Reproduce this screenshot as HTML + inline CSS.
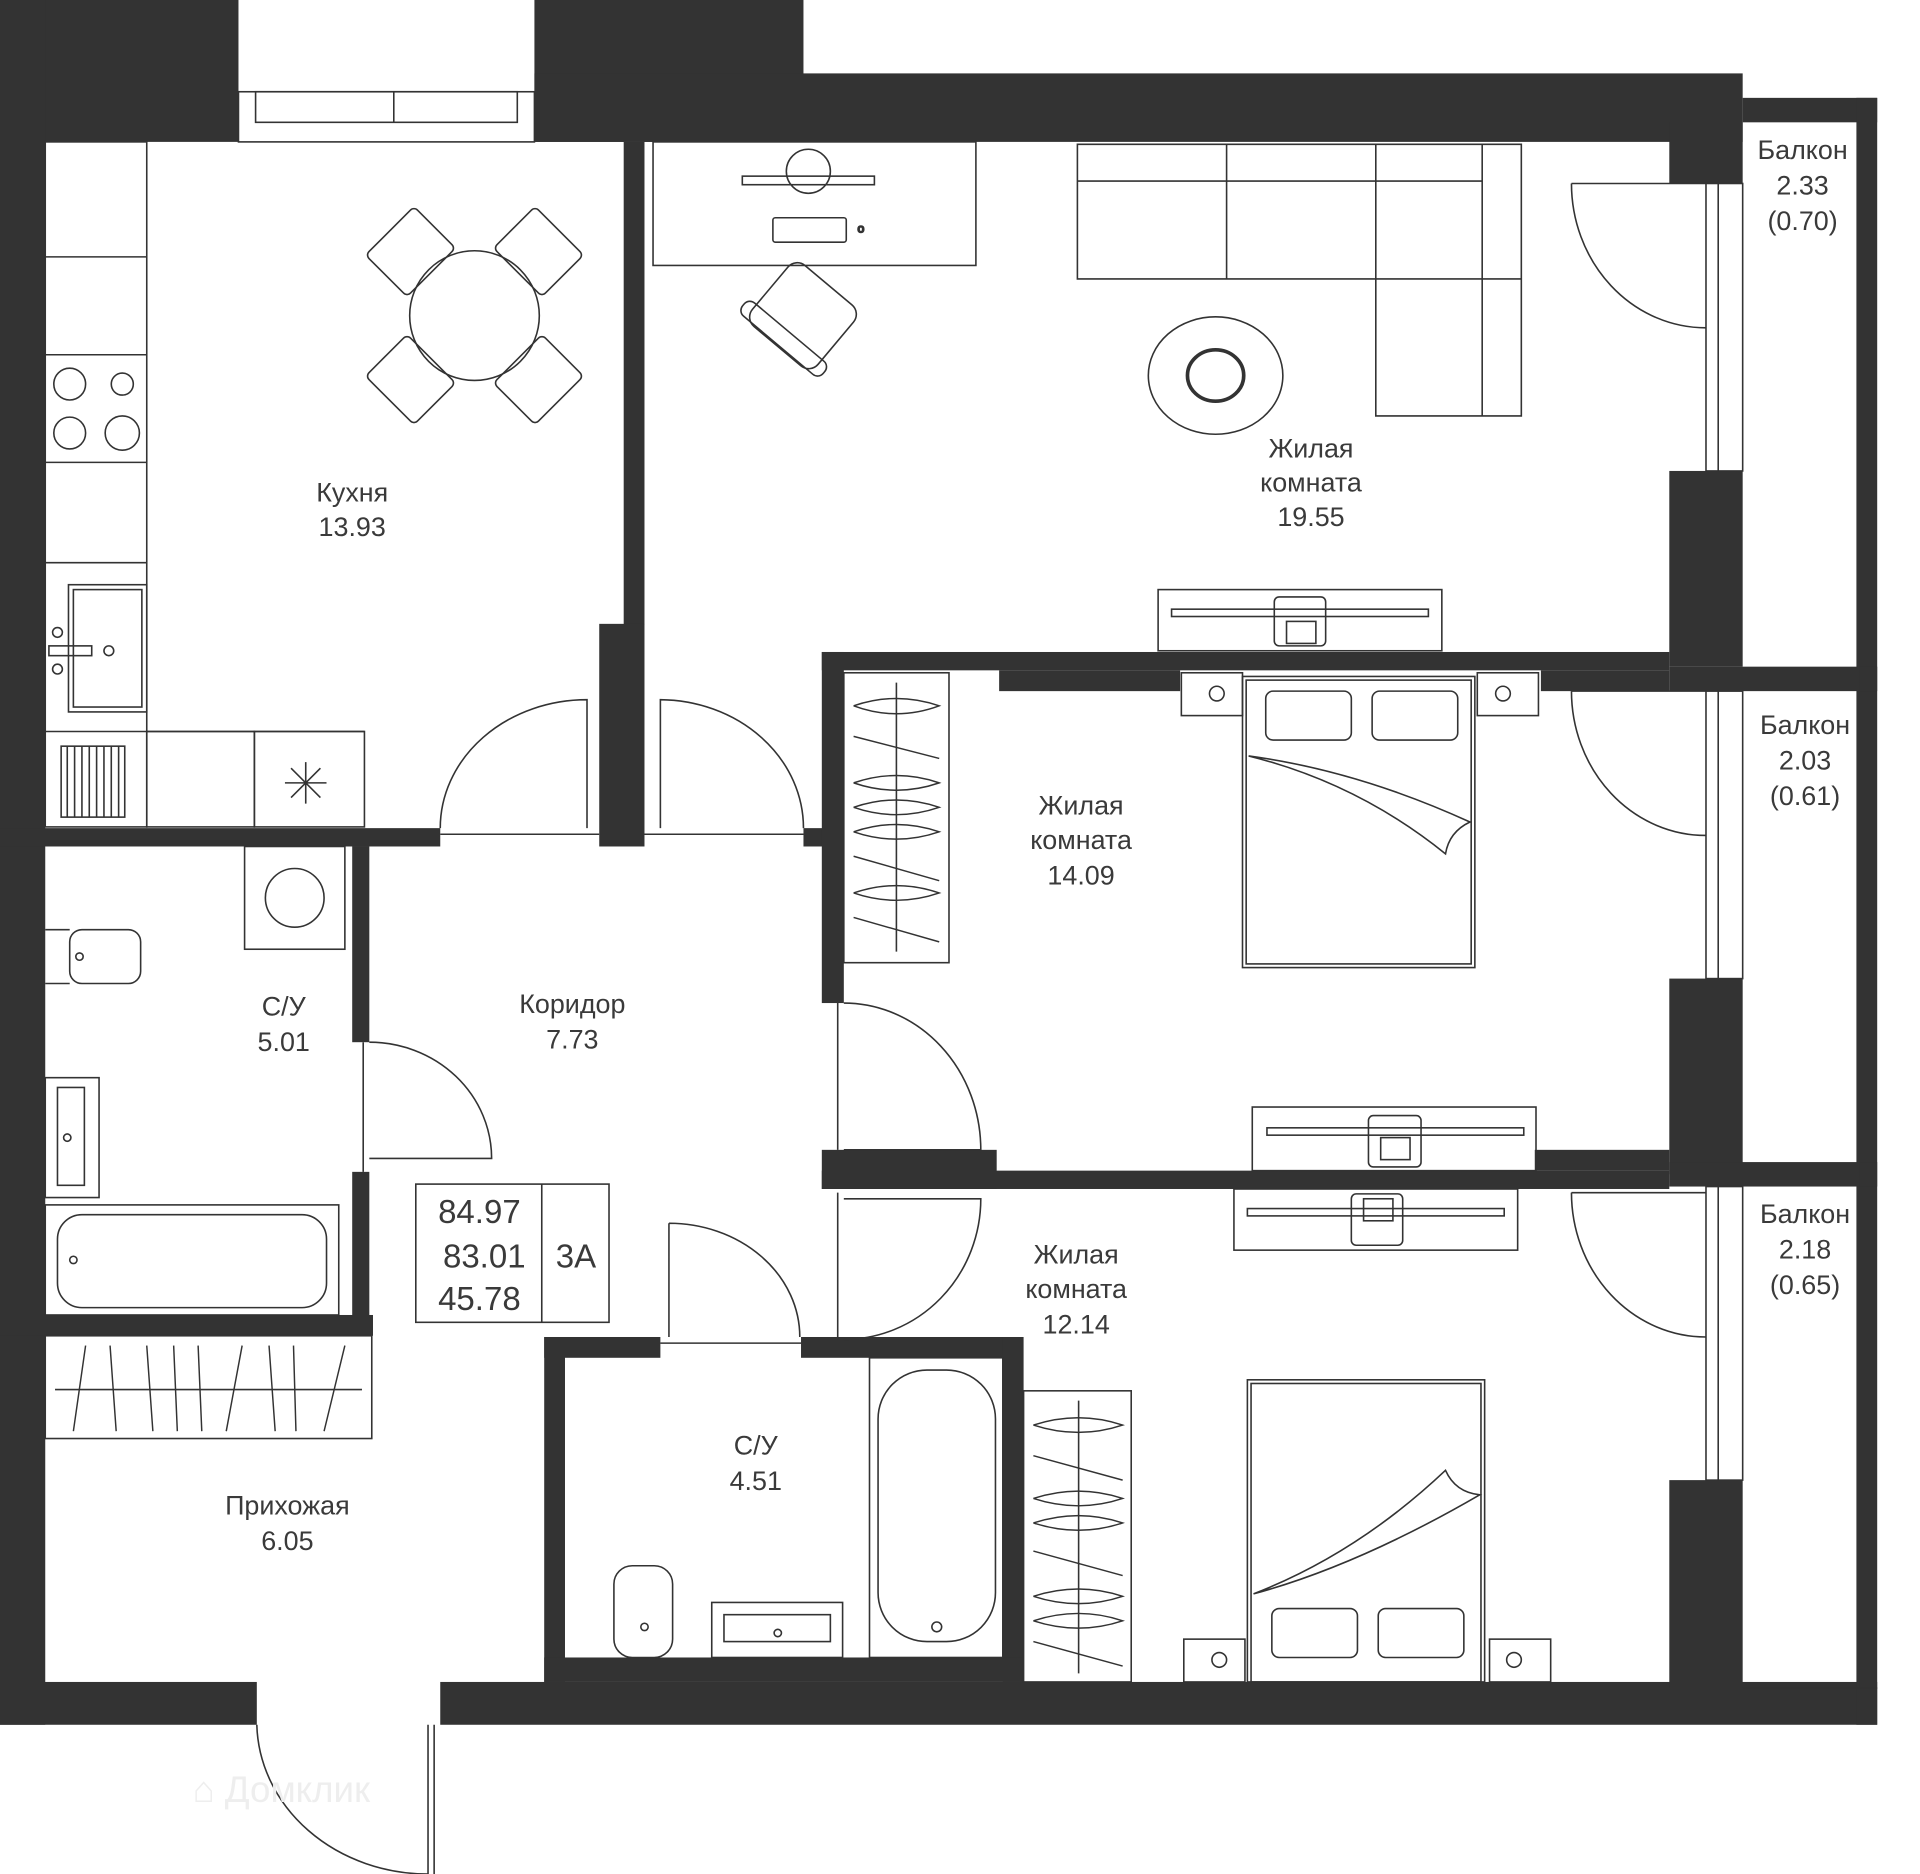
<!DOCTYPE html>
<html><head><meta charset="utf-8"><style>
html,body{margin:0;padding:0;background:#fff;}
svg{display:block}
text{font-family:"Liberation Sans","DejaVu Sans",sans-serif;font-size:22px;fill:#3a3a3a;text-anchor:middle}
</style></head><body>
<svg width="1920" height="1874" viewBox="0 0 1570 1532" preserveAspectRatio="none" xmlns="http://www.w3.org/2000/svg">
<rect width="1570" height="1532" fill="#fff"/>
<g fill="#333">
<!-- top -->
<rect x="0" y="0" width="195" height="116"/>
<rect x="437" y="0" width="220" height="116"/>
<rect x="437" y="60" width="988" height="56"/>
<rect x="1425" y="80" width="110" height="20"/>
<!-- left -->
<rect x="0" y="0" width="37" height="1410"/>
<!-- bottom -->
<rect x="0" y="1375" width="210" height="35"/>
<rect x="360" y="1375" width="1175" height="35"/>
<!-- right walls -->
<rect x="1365" y="100" width="60" height="50"/>
<rect x="1365" y="385" width="60" height="160"/>
<rect x="1365" y="800" width="60" height="160"/>
<rect x="1365" y="1210" width="60" height="170"/>
<rect x="1518" y="80" width="17" height="1330"/>
<rect x="1365" y="545" width="170" height="20"/>
<rect x="1365" y="950" width="170" height="20"/>
<!-- kitchen/living -->
<rect x="510" y="116" width="17" height="395"/>
<rect x="490" y="510" width="37" height="182"/>
<rect x="0" y="677" width="360" height="15"/>
<rect x="657" y="677" width="33" height="15"/>
<!-- bedroom 1 -->
<rect x="672" y="533" width="693" height="15"/>
<rect x="817" y="548" width="148" height="17"/>
<rect x="1260" y="548" width="105" height="17"/>
<rect x="672" y="533" width="18" height="287"/>
<rect x="672" y="940" width="143" height="32"/>
<rect x="672" y="957" width="693" height="15"/>
<rect x="1255" y="940" width="110" height="17"/>
<!-- bath1 -->
<rect x="288" y="692" width="14" height="160"/>
<rect x="288" y="958" width="14" height="134"/>
<rect x="0" y="1075" width="305" height="17"/>
<!-- bath2 -->
<rect x="445" y="1093" width="17" height="282"/>
<rect x="445" y="1093" width="95" height="17"/>
<rect x="655" y="1093" width="180" height="17"/>
<rect x="820" y="1093" width="17" height="282"/>
<rect x="445" y="1355" width="392" height="20"/>
</g>
<g fill="none" stroke="#333" stroke-width="1.3">
<!-- window -->
<rect x="195" y="75" width="242" height="41"/>
<rect x="209" y="75" width="214" height="25"/>
<line x1="322" y1="75" x2="322" y2="100"/>
<!-- balcony windows -->
<rect x="1395" y="150" width="30" height="235"/><line x1="1405" y1="150" x2="1405" y2="385"/>
<rect x="1395" y="565" width="30" height="235"/><line x1="1405" y1="565" x2="1405" y2="800"/>
<rect x="1395" y="970" width="30" height="240"/><line x1="1405" y1="970" x2="1405" y2="1210"/>
<line x1="1520" y1="100" x2="1520" y2="1380"/>
<line x1="1425" y1="1380" x2="1535" y2="1380"/>
<!-- balcony doors -->
<path d="M1285 150 L1395 150 M1285 150 A110 118 0 0 0 1395 268"/>
<path d="M1285 565 L1395 565 M1285 565 A110 118 0 0 0 1395 683"/>
<path d="M1285 975 L1395 975 M1285 975 A110 118 0 0 0 1395 1093"/>
<!-- kitchen -->
<rect x="37" y="116" width="83" height="560"/>
<line x1="37" y1="210" x2="120" y2="210"/><line x1="37" y1="290" x2="120" y2="290"/>
<line x1="37" y1="378" x2="120" y2="378"/><line x1="37" y1="460" x2="120" y2="460"/>
<line x1="37" y1="598" x2="298" y2="598"/>
<rect x="120" y="598" width="88" height="78"/><rect x="208" y="598" width="90" height="78"/>
<circle cx="57" cy="314" r="13"/><circle cx="100" cy="314" r="9"/>
<circle cx="57" cy="354" r="13"/><circle cx="100" cy="354" r="14"/>
<rect x="56" y="478" width="64" height="104"/><rect x="60" y="482" width="56" height="96"/>
<circle cx="47" cy="517" r="4"/><circle cx="47" cy="547" r="4"/><circle cx="89" cy="532" r="4"/>
<rect x="40" y="528" width="35" height="8"/>
<rect x="50" y="610" width="52" height="58"/>
<path d="M55 610 V668 M61 610 V668 M67 610 V668 M73 610 V668 M79 610 V668 M85 610 V668 M91 610 V668 M97 610 V668"/>
<path d="M233 640 H267 M250 623 V657 M238 628 L262 652 M262 628 L238 652"/>
<circle cx="388" cy="258" r="53"/>
<g transform="rotate(45 388 258)">
<rect x="360" y="160" width="56" height="48" rx="4"/><rect x="360" y="308" width="56" height="48" rx="4"/>
<rect x="290" y="230" width="48" height="56" rx="4"/><rect x="438" y="230" width="48" height="56" rx="4"/>
</g>
<!-- doors kitchen/living -->
<path d="M360 677 A120 105 0 0 1 480 572 V677"/>
<path d="M540 677 V572 A118 105 0 0 1 657 677"/>
<line x1="360" y1="682" x2="490" y2="682"/><line x1="527" y1="682" x2="657" y2="682"/>
<!-- desk -->
<rect x="534" y="116" width="264" height="101"/>
<rect x="607" y="144" width="108" height="7"/><circle cx="661" cy="140" r="18"/>
<rect x="632" y="178" width="60" height="20" rx="2"/><text x="704" y="190" style="font-size:10px">o</text>
<g transform="rotate(40 655 260)"><rect x="620" y="225" width="70" height="65" rx="10"/><rect x="612" y="275" width="86" height="14" rx="6"/></g>
<!-- sofa -->
<path d="M881 118 H1244 V340 H1125 V228 H881 Z"/>
<line x1="1003" y1="118" x2="1003" y2="228"/><line x1="1125" y1="118" x2="1125" y2="228"/>
<line x1="881" y1="148" x2="1212" y2="148"/><line x1="1212" y1="118" x2="1212" y2="340"/>
<line x1="1125" y1="228" x2="1244" y2="228"/>
<ellipse cx="994" cy="307" rx="55" ry="48"/><ellipse cx="994" cy="307" rx="23" ry="21" stroke-width="3"/>
<!-- TV living -->
<rect x="947" y="482" width="232" height="50"/><rect x="958" y="498" width="210" height="6"/>
<rect x="1042" y="488" width="42" height="40" rx="4"/><rect x="1052" y="508" width="24" height="18"/>
<!-- bedroom1 -->
<rect x="690" y="550" width="86" height="237"/><line x1="733" y1="558" x2="733" y2="778"/>
<g stroke-width="1.2">
<path d="M698 577 Q733 565 768 577 Q733 590 698 577"/><path d="M698 602 L768 620"/><path d="M698 640 Q733 628 768 640 Q733 652 698 640"/>
<path d="M698 660 Q733 648 768 660 Q733 672 698 660"/><path d="M698 680 Q733 668 768 680 Q733 692 698 680"/><path d="M698 700 L768 720"/>
<path d="M698 730 Q733 718 768 730 Q733 742 698 730"/><path d="M698 750 L768 770"/>
</g>
<rect x="966" y="550" width="50" height="35"/><rect x="1208" y="550" width="50" height="35"/>
<circle cx="995" cy="567" r="6"/><circle cx="1229" cy="567" r="6"/>
<rect x="1016" y="553" width="190" height="238"/><rect x="1019" y="556" width="184" height="232"/>
<rect x="1035" y="565" width="70" height="40" rx="6"/><rect x="1122" y="565" width="70" height="40" rx="6"/>
<path d="M1021 618 Q1110 630 1202 672 Q1185 680 1182 698 Q1110 640 1021 618"/>
<rect x="1024" y="905" width="232" height="52"/><rect x="1036" y="922" width="210" height="6"/>
<rect x="1119" y="912" width="43" height="42" rx="4"/><rect x="1129" y="930" width="24" height="18"/>
<path d="M690 820 A112 120 0 0 1 802 940 H690"/><line x1="685" y1="820" x2="685" y2="940"/>
<!-- bedroom2 -->
<rect x="1009" y="972" width="232" height="50"/><rect x="1020" y="988" width="210" height="6"/>
<rect x="1105" y="976" width="42" height="42" rx="4"/><rect x="1115" y="980" width="24" height="18"/>
<path d="M690 980 H802 A112 115 0 0 1 690 1095"/><line x1="685" y1="975" x2="685" y2="1095"/>
<rect x="837" y="1137" width="88" height="238"/><line x1="882" y1="1145" x2="882" y2="1368"/>
<g stroke-width="1.2">
<path d="M845 1165 Q882 1153 918 1165 Q882 1177 845 1165"/><path d="M845 1190 L918 1210"/><path d="M845 1225 Q882 1213 918 1225 Q882 1237 845 1225"/>
<path d="M845 1245 Q882 1233 918 1245 Q882 1257 845 1245"/><path d="M845 1268 L918 1288"/><path d="M845 1305 Q882 1293 918 1305 Q882 1317 845 1305"/>
<path d="M845 1325 Q882 1313 918 1325 Q882 1337 845 1325"/><path d="M845 1342 L918 1362"/>
</g>
<rect x="1020" y="1128" width="194" height="247"/><rect x="1023" y="1131" width="188" height="244"/>
<rect x="1040" y="1315" width="70" height="40" rx="6"/><rect x="1127" y="1315" width="70" height="40" rx="6"/>
<path d="M1025 1303 Q1110 1280 1210 1222 Q1190 1220 1182 1202 Q1110 1270 1025 1303"/>
<rect x="968" y="1340" width="50" height="35"/><rect x="1218" y="1340" width="50" height="35"/>
<circle cx="997" cy="1357" r="6"/><circle cx="1238" cy="1357" r="6"/>
<!-- bath1 -->
<rect x="200" y="692" width="82" height="84"/><circle cx="241" cy="734" r="24"/>
<rect x="57" y="760" width="58" height="44" rx="10"/><path d="M37 760 H57 M37 804 H57"/><circle cx="65" cy="782" r="3"/>
<rect x="37" y="881" width="44" height="98"/><rect x="47" y="889" width="22" height="80"/><circle cx="55" cy="930" r="3"/>
<rect x="37" y="985" width="240" height="90"/><rect x="47" y="993" width="220" height="76" rx="20"/><circle cx="60" cy="1030" r="3"/>
<path d="M302 852 A100 95 0 0 1 402 947 H302"/><line x1="297" y1="852" x2="297" y2="958"/>
<!-- info box -->
<rect x="340" y="968" width="158" height="113"/><line x1="443" y1="968" x2="443" y2="1081"/>
<!-- corridor/bath2 door -->
<path d="M547 1000 V1093 M547 1000 A107 93 0 0 1 654 1093"/><line x1="540" y1="1098" x2="655" y2="1098"/>
<!-- wardrobe hall -->
<rect x="37" y="1092" width="267" height="84"/><line x1="45" y1="1136" x2="296" y2="1136"/>
<g stroke-width="1.2">
<path d="M70 1100 L60 1170 M90 1100 L95 1170 M120 1100 L125 1170 M142 1100 L145 1170 M162 1100 L165 1170 M198 1100 L185 1170 M220 1100 L225 1170 M240 1100 L242 1170 M282 1100 L265 1170"/>
</g>
<!-- entrance door -->
<path d="M210 1410 A140 125 0 0 0 350 1532 V1410"/><line x1="355" y1="1410" x2="355" y2="1532"/>
<!-- bath2 fixtures -->
<rect x="711" y="1110" width="109" height="245"/><rect x="718" y="1120" width="96" height="222" rx="40"/><circle cx="766" cy="1330" r="4"/>
<rect x="582" y="1310" width="107" height="45"/><rect x="592" y="1320" width="87" height="22"/><circle cx="636" cy="1335" r="3"/>
<rect x="502" y="1280" width="48" height="75" rx="15"/><circle cx="527" cy="1330" r="3"/>
</g>
<text x="288" y="410">Кухня</text><text x="288" y="438">13.93</text>
<text x="1072" y="374">Жилая</text><text x="1072" y="402">комната</text><text x="1072" y="430">19.55</text>
<text x="884" y="666">Жилая</text><text x="884" y="694">комната</text><text x="884" y="723">14.09</text>
<text x="880" y="1033">Жилая</text><text x="880" y="1061">комната</text><text x="880" y="1090">12.14</text>
<text x="232" y="830">С/У</text><text x="232" y="859">5.01</text>
<text x="468" y="828">Коридор</text><text x="468" y="857">7.73</text>
<text x="618" y="1189">С/У</text><text x="618" y="1218">4.51</text>
<text x="235" y="1238">Прихожая</text><text x="235" y="1267">6.05</text>
<text x="1474" y="130">Балкон</text><text x="1474" y="159">2.33</text><text x="1474" y="188">(0.70)</text>
<text x="1476" y="600">Балкон</text><text x="1476" y="629">2.03</text><text x="1476" y="658">(0.61)</text>
<text x="1476" y="1000">Балкон</text><text x="1476" y="1029">2.18</text><text x="1476" y="1058">(0.65)</text>
<text x="392" y="1000" style="font-size:27px">84.97</text>
<text x="396" y="1036" style="font-size:27px">83.01</text>
<text x="392" y="1071" style="font-size:27px">45.78</text>
<text x="471" y="1036" style="font-size:27px">3A</text>
<text x="230" y="1473" style="font-size:30px;fill:#eee">⌂ Домклик</text>
</svg>
</body></html>
